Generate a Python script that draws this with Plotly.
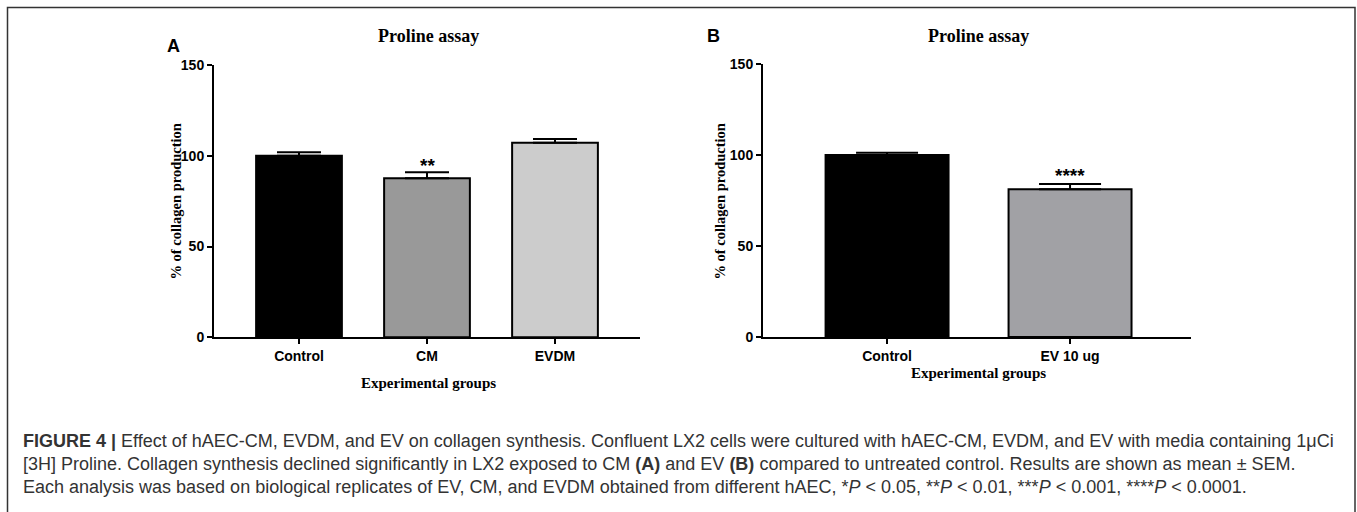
import plotly.graph_objects as go

# ---- data ----
groups_a = ["Control", "CM", "EVDM"]
mean_a = [100.0, 87.6, 107.2]
sem_a = [2.0, 3.3, 2.0]
sig_a = ["", "**", ""]
colors_a = ["#000000", "#999999", "#cccccc"]

groups_b = ["Control", "EV 10 ug"]
mean_b = [100.0, 81.2]
sem_b = [1.2, 2.8]
sig_b = ["", "****"]
colors_b = ["#000000", "#a1a1a5"]

y_ticks = [0, 50, 100, 150]

caption_lines = [
    "<b>FIGURE 4 |</b> Effect of hAEC-CM, EVDM, and EV on collagen synthesis. Confluent LX2 cells were cultured with hAEC-CM, EVDM, and EV with media containing 1μCi",
    "[3H] Proline. Collagen synthesis declined significantly in LX2 exposed to CM <b>(A)</b> and EV <b>(B)</b> compared to untreated control. Results are shown as mean ± SEM.",
    "Each analysis was based on biological replicates of EV, CM, and EVDM obtained from different hAEC, *<i>P</i> &lt; 0.05, **<i>P</i> &lt; 0.01, ***<i>P</i> &lt; 0.001, ****<i>P</i> &lt; 0.0001.",
]

W, H = 1357, 512
SERIF = "Liberation Serif, Times New Roman, serif"
SANS = "Liberation Sans, Arial, sans-serif"

def px(x):
    return x / W

def py(y):
    return 1 - y / H

fig = go.Figure()

fig.add_trace(go.Bar(
    x=groups_a, y=mean_a, width=0.67,
    marker=dict(color=colors_a, line=dict(color="black", width=2)),
    error_y=dict(type="data", symmetric=False, array=sem_a, arrayminus=[0] * len(sem_a),
                 color="black", thickness=2, width=22),
    xaxis="x", yaxis="y", showlegend=False,
))
fig.add_trace(go.Bar(
    x=groups_b, y=mean_b, width=0.672,
    marker=dict(color=colors_b, line=dict(color="black", width=2)),
    error_y=dict(type="data", symmetric=False, array=sem_b, arrayminus=[0] * len(sem_b),
                 color="black", thickness=2, width=31),
    xaxis="x2", yaxis="y2", showlegend=False,
))

axis_common = dict(showline=True, linecolor="black", linewidth=2, ticks="outside",
                   ticklen=5, tickwidth=2, tickcolor="black", showgrid=False, zeroline=False,
                   automargin=False,
                   tickfont=dict(family=SANS, size=14, color="black", weight="bold"))

fig.update_layout(
    width=W, height=H, margin=dict(l=0, r=0, t=0, b=0, pad=0), autosize=False,
    paper_bgcolor="white", plot_bgcolor="white",
    xaxis=dict(domain=[px(214), px(640)], range=[-0.664, 2.664], anchor="y", **axis_common),
    yaxis=dict(domain=[py(337.3), py(65)], range=[0, 150], tickvals=y_ticks, anchor="x",
               **axis_common),
    xaxis2=dict(domain=[px(763), px(1191)], range=[-0.678, 1.661], anchor="y2", **axis_common),
    yaxis2=dict(domain=[py(337), py(64)], range=[0, 150], tickvals=y_ticks, anchor="x2",
                **axis_common),
)

ann = []
# significance marks
for g, m, s, t in zip(groups_a, mean_a, sem_a, sig_a):
    if t:
        ann.append(dict(x=g, y=m + s, xref="x", yref="y", text="<b>" + t + "</b>", showarrow=False,
                        yanchor="bottom", yshift=-6, font=dict(family=SANS, size=19, color="black")))
for g, m, s, t in zip(groups_b, mean_b, sem_b, sig_b):
    if t:
        ann.append(dict(x=g, y=m + s, xref="x2", yref="y2", text="<b>" + t + "</b>", showarrow=False,
                        yanchor="bottom", yshift=-4, font=dict(family=SANS, size=19, color="black")))

# titles, panel letters, axis titles
for cx, ltr, lx, ly, ytx, xty in [(428, "A", 173, 46, 175, 383), (978, "B", 713, 36, 719, 373)]:
    ann.append(dict(x=px(cx), y=py(36), xref="paper", yref="paper", text="<b>Proline assay</b>",
                    showarrow=False, xanchor="center", yanchor="middle",
                    font=dict(family=SERIF, size=18, color="black")))
    ann.append(dict(x=px(lx), y=py(ly), xref="paper", yref="paper", text="<b>" + ltr + "</b>",
                    showarrow=False, xanchor="center", yanchor="middle",
                    font=dict(family=SANS, size=18, color="black")))
    ann.append(dict(x=px(ytx), y=py(201.5), xref="paper", yref="paper",
                    text="<b>% of collagen production</b>", textangle=-90,
                    showarrow=False, xanchor="center", yanchor="middle",
                    font=dict(family=SERIF, size=14.5, color="black")))
    ann.append(dict(x=px(cx), y=py(xty), xref="paper", yref="paper",
                    text="<b>Experimental groups</b>",
                    showarrow=False, xanchor="center", yanchor="middle",
                    font=dict(family=SERIF, size=15, color="black")))

# caption
for i, line in enumerate(caption_lines):
    ann.append(dict(x=px(21), y=py(441 + 23 * i), xref="paper", yref="paper", text=line,
                    showarrow=False, xanchor="left", yanchor="middle", align="left",
                    font=dict(family=SANS, size=18, color="#333333")))

fig.update_layout(annotations=ann)

# figure frame
fig.add_shape(type="rect", xref="paper", yref="paper", x0=px(7.5), x1=px(1355), y0=-0.1, y1=py(7.5),
              line=dict(color="#333333", width=1.5), fillcolor="rgba(0,0,0,0)", layer="above")

fig.write_html(
    "out.html",
    config={"displayModeBar": False},
    post_script="document.body.style.margin='0px';document.body.style.overflow='hidden';",
)
